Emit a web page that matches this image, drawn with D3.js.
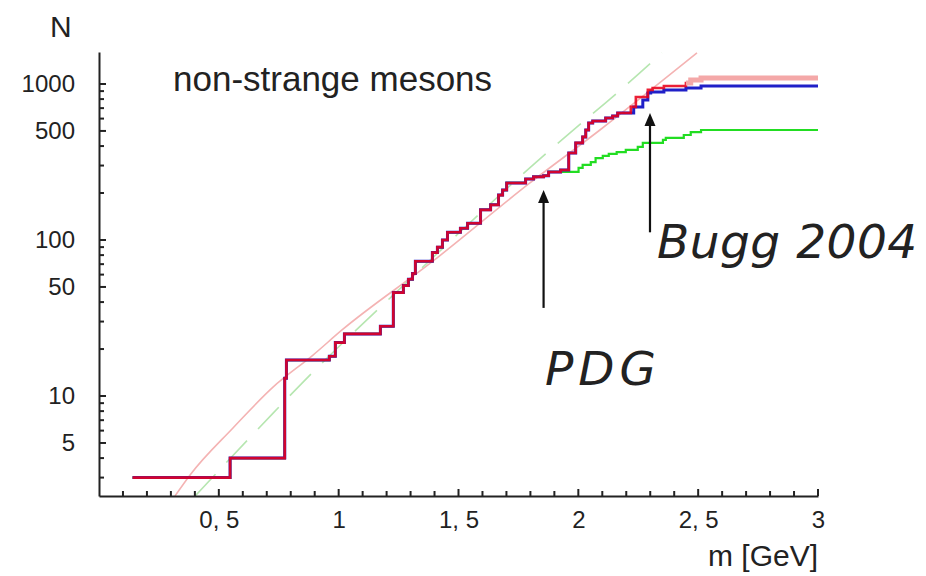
<!DOCTYPE html>
<html>
<head>
<meta charset="utf-8">
<script src="https://cdn.jsdelivr.net/npm/d3@7"></script>
<style>
  body { margin: 0; background: #fff; }
  text { font-family: "Liberation Sans", Arial, sans-serif; fill: #222; }
</style>
</head>
<body>
<div id="chart"></div>
<script>
// cumulative number of states N(m)
// part shared by all three curves
const massShared  = [0.14, 0.547, 0.775, 0.782, 0.961, 0.986, 1.024, 1.174, 1.228, 1.270, 1.291, 1.308, 1.320, 1.391, 1.412, 1.433, 1.454, 1.508, 1.538, 1.592, 1.634, 1.667, 1.684, 1.701, 1.780, 1.813, 1.855, 1.876];
const countShared = [3, 4, 13, 17, 18, 22, 25, 28, 46, 51, 56, 61, 73, 83, 90, 100, 112, 119, 128, 156, 168, 194, 209, 232, 246, 254, 258, 273];

// PDG only (green)
const massPdg  = [2.001, 2.018, 2.052, 2.072, 2.102, 2.127, 2.160, 2.198, 2.248, 2.269, 2.353, 2.365, 2.440, 2.469, 2.512, 3.0];
const countPdg = [290, 303, 316, 335, 346, 356, 366, 378, 395, 419, 438, 451, 471, 492, 507, 507];

// PDG + Bugg 2004 (blue)
const massBugg  = [1.926, 1.960, 1.989, 2.018, 2.031, 2.043, 2.060, 2.114, 2.143, 2.164, 2.231, 2.269, 2.290, 2.302, 2.357, 2.449, 2.512, 3.0];
const countBugg = [281, 361, 419, 458, 507, 562, 579, 605, 624, 652, 713, 789, 875, 889, 916, 943, 971, 971];

// PDG + Bugg 2004, all states (red)
const massAll  = [1.926, 1.960, 1.989, 2.018, 2.031, 2.043, 2.060, 2.114, 2.143, 2.164, 2.219, 2.240, 2.290, 2.310, 2.357, 2.449, 2.469, 2.512, 3.0];
const countAll = [281, 361, 419, 458, 507, 562, 579, 605, 624, 652, 713, 826, 916, 943, 971, 1014, 1062, 1093, 1093];

// fitted reference curves
const fitSolidMass  = [0.317, 0.380, 0.559, 0.726, 0.893, 1.014, 1.389, 1.798, 2.090, 2.495];
const fitSolidCount = [2.286, 3.12, 6.24, 11.4, 18.3, 26.5, 72.3, 232, 507, 1581];
const fitDashMass   = [0.401, 0.893, 1.172, 1.790, 2.132, 2.349];
const fitDashCount  = [2.286, 14.7, 36.6, 294, 789, 1581];

const xTicks = [0.5, 1, 1.5, 2, 2.5, 3];
const yTicks = [5, 10, 50, 100, 500, 1000];
const xMinor = [0.1, 0.2, 0.3, 0.4, 0.6, 0.7, 0.8, 0.9, 1.1, 1.2, 1.3, 1.4, 1.6, 1.7, 1.8, 1.9,
                2.1, 2.2, 2.3, 2.4, 2.6, 2.7, 2.8, 2.9];
const yMinor = [3, 4, 6, 7, 8, 9, 20, 30, 40, 60, 70, 80, 90, 200, 300, 400, 600, 700, 800, 900];

const W = 926, H = 576;
const svg = d3.select("#chart").append("svg")
  .attr("width", W).attr("height", H);

const x = d3.scaleLinear().domain([0, 3]).range([99, 818]);
const y = d3.scaleLog().domain([2.286, 1603]).range([496, 52]);

const zip = (ms, ns) => ms.map((m, i) => [m, ns[i]]);
const shared = zip(massShared, countShared);
const pdg  = shared.concat(zip(massPdg, countPdg));
const bugg = shared.concat(zip(massBugg, countBugg));
const all  = shared.concat(zip(massAll, countAll));

svg.append("clipPath").attr("id", "plot")
  .append("rect").attr("x", 99).attr("y", 40).attr("width", 722).attr("height", 456);

const plot = svg.append("g").attr("clip-path", "url(#plot)");

const smooth = d3.line().x(d => x(d[0])).y(d => y(d[1])).curve(d3.curveMonotoneX);
const basis = d3.line().x(d => x(d[0])).y(d => y(d[1])).curve(d3.curveBasis);
const step = d3.line().x(d => x(d[0])).y(d => y(d[1])).curve(d3.curveStepAfter);

plot.append("path").attr("d", smooth(zip(fitSolidMass, fitSolidCount)))
  .attr("fill", "none").attr("stroke", "#f4b3b3").attr("stroke-width", 1.6);
plot.append("path").attr("d", basis(zip(fitDashMass, fitDashCount)))
  .attr("fill", "none").attr("stroke", "#b6e6b0").attr("stroke-width", 1.6)
  .attr("stroke-dasharray", "30,16");

plot.append("path").attr("d", step(pdg))
  .attr("fill", "none").attr("stroke", "#22dd22").attr("stroke-width", 2.2);
plot.append("path").attr("d", step(bugg))
  .attr("fill", "none").attr("stroke", "#2020c8").attr("stroke-width", 3);
plot.append("path").attr("d", step(all))
  .attr("fill", "none").attr("stroke", "#e8001a").attr("stroke-width", 2.6)
  .attr("stroke-opacity", 0.88);
// the flat top of the red curve is drawn pale and broad
plot.append("path").attr("d", step(all.filter(d => d[0] >= 2.44)))
  .attr("fill", "none").attr("stroke", "#f4a8a8").attr("stroke-width", 5);

// axes: labels from d3 axes, tick marks drawn inward by hand
const fmt = d => String(d).replace(".", ", ");

svg.append("g").attr("transform", "translate(99,0)")
  .call(d3.axisLeft(y).tickValues(yTicks).tickFormat(d3.format("d"))
    .tickSize(0).tickSizeOuter(0).tickPadding(24));
svg.append("g").attr("transform", "translate(0,496)")
  .call(d3.axisBottom(x).tickValues(xTicks).tickFormat(fmt)
    .tickSize(0).tickSizeOuter(0).tickPadding(15));

svg.selectAll(".domain").attr("stroke", "#222").attr("stroke-width", 2);
svg.selectAll(".tick text")
  .style("font-family", "Liberation Sans, Arial, sans-serif")
  .style("font-size", "24px").attr("fill", "#2a2a2a");

const ticks = svg.append("g").attr("stroke", "#222").attr("stroke-width", 2);
ticks.selectAll(".ym").data(yTicks.concat(yMinor)).join("line").attr("class", "ym")
  .attr("x1", 99).attr("x2", d => 99 + (yTicks.includes(d) ? 7 : 5))
  .attr("y1", d => y(d)).attr("y2", d => y(d));
ticks.selectAll(".xm").data(xTicks.concat(xMinor)).join("line").attr("class", "xm")
  .attr("x1", d => x(d)).attr("x2", d => x(d))
  .attr("y1", 496).attr("y2", d => 496 - (xTicks.includes(d) ? 7 : 5));

svg.append("text").attr("x", 50).attr("y", 37)
  .style("font-size", "30px").text("N");
svg.append("text").attr("x", 818).attr("y", 566).attr("text-anchor", "end")
  .style("font-size", "30px").text("m [GeV]");
svg.append("text").attr("x", 173).attr("y", 91)
  .style("font-size", "35px").text("non-strange mesons");

// arrows marking where the data sets end
const arrows = [
  { m: 1.855, from: 36.7, to: 209 },
  { m: 2.299, from: 112, to: 652 }
];
arrows.forEach(a => {
  const ax = x(a.m), y0 = y(a.from), y1 = y(a.to);
  svg.append("line").attr("x1", ax).attr("x2", ax).attr("y1", y0).attr("y2", y1 + 10)
    .attr("stroke", "#111").attr("stroke-width", 2.2);
  svg.append("path")
    .attr("d", `M${ax},${y1} L${ax - 5.5},${y1 + 13} L${ax + 5.5},${y1 + 13} Z`)
    .attr("fill", "#111");
});

svg.append("text").attr("x", 545).attr("y", 385)
  .style("font-family", "DejaVu Sans, sans-serif").style("font-style", "italic")
  .style("font-size", "47px").style("letter-spacing", "5px").attr("fill", "#111").text("PDG");
svg.append("text").attr("x", 657).attr("y", 258)
  .style("font-family", "DejaVu Sans, sans-serif").style("font-style", "italic")
  .style("font-size", "47px").style("letter-spacing", "0.5px").attr("fill", "#111").text("Bugg 2004");
</script>
</body>
</html>
